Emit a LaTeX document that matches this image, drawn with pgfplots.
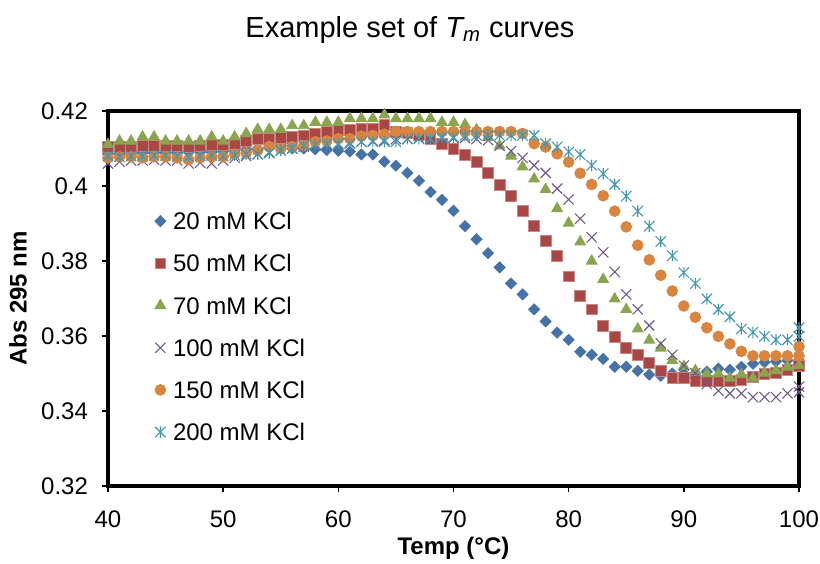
\documentclass[border=0pt]{standalone}
\usepackage{fontspec}
\setmainfont{Liberation Sans}
\usepackage{pgfplots}
\pgfplotsset{compat=1.18}

\definecolor{s20}{RGB}{69,114,167}
\definecolor{s50}{RGB}{170,70,67}
\definecolor{s70}{RGB}{137,165,78}
\definecolor{s100}{RGB}{113,88,143}
\definecolor{s150}{RGB}{219,132,61}
\definecolor{s200}{RGB}{65,152,175}

% Excel style star: an x with a vertical bar
\pgfdeclareplotmark{xstar}{%
  \pgfpathmoveto{\pgfqpoint{-\pgfplotmarksize}{-\pgfplotmarksize}}%
  \pgfpathlineto{\pgfqpoint{\pgfplotmarksize}{\pgfplotmarksize}}%
  \pgfpathmoveto{\pgfqpoint{-\pgfplotmarksize}{\pgfplotmarksize}}%
  \pgfpathlineto{\pgfqpoint{\pgfplotmarksize}{-\pgfplotmarksize}}%
  \pgfpathmoveto{\pgfqpoint{0pt}{-1.1\pgfplotmarksize}}%
  \pgfpathlineto{\pgfqpoint{0pt}{1.1\pgfplotmarksize}}%
  \pgfusepathqstroke}

\newcommand{\txt}{\fontsize{12}{14}\selectfont}

\begin{document}
\begin{tikzpicture}
\useasboundingbox (-54pt,-38.5pt) rectangle (356pt,243pt);
\begin{axis}[
    at={(0,0)}, anchor=south west,
    scale only axis, width=345.5pt, height=187.5pt,
    xmin=40, xmax=100, ymin=0.32, ymax=0.42,
    xtick={40,50,60,70,80,90,100},
    ytick={0.32,0.34,0.36,0.38,0.40,0.42},
    xtick pos=left, ytick pos=left,
    tick align=outside, major tick length=3pt,
    tick style={black, line width=0.8pt},
    axis line style={black, line width=1.6pt},
    every tick label/.append style={font=\txt},
    /pgf/number format/assume math mode=true,
    scaled y ticks=false,
    yticklabel style={/pgf/number format/fixed, /pgf/number format/precision=2, xshift=-3.5pt},
    xticklabel style={yshift=-6pt},
    xlabel={Temp (°C)},
    xlabel style={font=\bfseries\txt, at={(axis description cs:0.5,-0.165)}, anchor=center},
    ylabel={Abs 295 nm},
    ylabel style={font=\bfseries\txt, at={(axis description cs:-0.13,0.5)}, anchor=center},
    title={Example set of {\itshape T}\textsubscript{\itshape m} curves},
    title style={font=\fontsize{14.5}{17}\selectfont, at={(axis description cs:0.437,1.184)}, anchor=center},
    clip=false,
    legend cell align=left,
    legend image code/.code={\draw[#1] plot coordinates {(0pt,0pt)};},
    legend style={draw=none, fill=none, at={(axis description cs:0.067,0.7304)}, anchor=north west,
        inner sep=0pt, row sep=12.5pt, column sep=3.5pt, font=\txt,
        nodes={inner sep=0pt, text height=8.6pt, text depth=0pt}},
]
% 20 mM KCl
\addplot[only marks, color=s20, mark=square*, mark size=2pt, mark options={rotate=45, line width=0.3pt}] coordinates {
(40,0.4085) (41,0.4085) (42,0.4085) (43,0.4088) (44,0.4088) (45,0.4088) (46,0.4088) (47,0.4090)
(48,0.4090) (49,0.4090) (50,0.4092) (51,0.4095) (52,0.4098) (53,0.4100) (54,0.4105) (55,0.4108)
(56,0.4100) (57,0.4100) (58,0.4098) (59,0.4096) (60,0.4094) (61,0.4092) (62,0.4084) (63,0.4084)
(64,0.4065) (65,0.4054) (66,0.4035) (67,0.4014) (68,0.3984) (69,0.3963) (70,0.3934) (71,0.3893)
(72,0.3858) (73,0.3821) (74,0.3783) (75,0.3740) (76,0.3711) (77,0.3671) (78,0.3639) (79,0.3609)
(80,0.3590) (81,0.3558) (82,0.3550) (83,0.3539) (84,0.3518) (85,0.3518) (86,0.3507) (87,0.3497)
(88,0.3494) (89,0.3500) (90,0.3500) (91,0.3500) (92,0.3505) (93,0.3513) (94,0.3510) (95,0.3518)
(96,0.3526) (97,0.3530) (98,0.3532) (99,0.3535) (100,0.3535)
};
% 50 mM KCl
\addplot[only marks, color=s50, mark=square*, mark size=2.7pt, mark options={fill=s50, draw=s50!65!white, line width=0.4pt}] coordinates {
(40,0.4105) (41,0.4105) (42,0.4105) (43,0.4108) (44,0.4108) (45,0.4108) (46,0.4108) (47,0.4105)
(48,0.4108) (49,0.4110) (50,0.4110) (51,0.4112) (52,0.4120) (53,0.4125) (54,0.4125) (55,0.4128)
(56,0.4132) (57,0.4135) (58,0.4140) (59,0.4145) (60,0.4150) (61,0.4150) (62,0.4152) (63,0.4152)
(64,0.4162) (65,0.4145) (66,0.4142) (67,0.4135) (68,0.4125) (69,0.4113) (70,0.4100) (71,0.4084)
(72,0.4065) (73,0.4035) (74,0.4003) (75,0.3974) (76,0.3934) (77,0.3893) (78,0.3853) (79,0.3813)
(80,0.3759) (81,0.3708) (82,0.3671) (83,0.3628) (84,0.3598) (85,0.3569) (86,0.3550) (87,0.3529)
(88,0.3507) (89,0.3488) (90,0.3488) (91,0.3480) (92,0.3480) (93,0.3480) (94,0.3480) (95,0.3482)
(96,0.3490) (97,0.3500) (98,0.3502) (99,0.3510) (100,0.3520)
};
% 70 mM KCl
\addplot[only marks, color=s70, mark=triangle*, mark size=3.1pt] coordinates {
(40,0.4111) (41,0.4120) (42,0.4120) (43,0.4131) (44,0.4131) (45,0.4120) (46,0.4120) (47,0.4120)
(48,0.4120) (49,0.4131) (50,0.4120) (51,0.4131) (52,0.4140) (53,0.4151) (54,0.4151) (55,0.4151)
(56,0.4161) (57,0.4161) (58,0.4170) (59,0.4170) (60,0.4170) (61,0.4180) (62,0.4180) (63,0.4180)
(64,0.4190) (65,0.4180) (66,0.4180) (67,0.4180) (68,0.4180) (69,0.4170) (70,0.4170) (71,0.4164)
(72,0.4150) (73,0.4130) (74,0.4107) (75,0.4080) (76,0.4051) (77,0.4019) (78,0.3991) (79,0.3940)
(80,0.3901) (81,0.3851) (82,0.3800) (83,0.3751) (84,0.3699) (85,0.3671) (86,0.3619) (87,0.3589)
(88,0.3568) (89,0.3535) (90,0.3519) (91,0.3508) (92,0.3499) (93,0.3499) (94,0.3488) (95,0.3497)
(96,0.3488) (97,0.3501) (98,0.3508) (99,0.3517) (100,0.3521)
};
% 100 mM KCl
\addplot[only marks, color=s100, mark=x, mark size=3.6pt, mark options={line width=0.55pt}] coordinates {
(40,0.4060) (41,0.4065) (42,0.4068) (43,0.4068) (44,0.4070) (45,0.4068) (46,0.4068) (47,0.4060)
(48,0.4062) (49,0.4060) (50,0.4068) (51,0.4075) (52,0.4080) (53,0.4085) (54,0.4090) (55,0.4095)
(56,0.4100) (57,0.4105) (58,0.4108) (59,0.4110) (60,0.4112) (61,0.4115) (62,0.4118) (63,0.4120)
(64,0.4122) (65,0.4125) (66,0.4125) (67,0.4128) (68,0.4128) (69,0.4128) (70,0.4128) (71,0.4128)
(72,0.4125) (73,0.4122) (74,0.4107) (75,0.4093) (76,0.4075) (77,0.4055) (78,0.4035) (79,0.3993)
(80,0.3964) (81,0.3913) (82,0.3863) (83,0.3823) (84,0.3771) (85,0.3711) (86,0.3671) (87,0.3628)
(88,0.3580) (89,0.3550) (90,0.3521) (91,0.3501) (92,0.3472) (93,0.3454) (94,0.3447) (95,0.3447)
(96,0.3437) (97,0.3437) (98,0.3437) (99,0.3447) (100,0.3465) (100,0.3450)
};
% 150 mM KCl
\addplot[only marks, color=s150, mark=*, mark size=2.7pt] coordinates {
(40,0.4075) (41,0.4078) (42,0.4078) (43,0.4075) (44,0.4078) (45,0.4078) (46,0.4075) (47,0.4070)
(48,0.4075) (49,0.4078) (50,0.4078) (51,0.4085) (52,0.4088) (53,0.4095) (54,0.4105) (55,0.4100)
(56,0.4105) (57,0.4108) (58,0.4118) (59,0.4120) (60,0.4126) (61,0.4126) (62,0.4133) (63,0.4135)
(64,0.4138) (65,0.4145) (66,0.4145) (67,0.4145) (68,0.4145) (69,0.4145) (70,0.4145) (71,0.4145)
(72,0.4145) (73,0.4145) (74,0.4145) (75,0.4145) (76,0.4140) (77,0.4113) (78,0.4104) (79,0.4086)
(80,0.4064) (81,0.4034) (82,0.4004) (83,0.3974) (84,0.3933) (85,0.3891) (86,0.3842) (87,0.3803)
(88,0.3762) (89,0.3720) (90,0.3680) (91,0.3650) (92,0.3622) (93,0.3599) (94,0.3579) (95,0.3559)
(96,0.3547) (97,0.3547) (98,0.3547) (99,0.3547) (100,0.3547) (100,0.3572)
};
% 200 mM KCl
\addplot[only marks, color=s200, mark=xstar, mark size=2.6pt, mark options={line width=0.55pt}] coordinates {
(40,0.4080) (41,0.4078) (42,0.4080) (43,0.4080) (44,0.4082) (45,0.4082) (46,0.4080) (47,0.4078)
(48,0.4080) (49,0.4082) (50,0.4080) (51,0.4082) (52,0.4085) (53,0.4085) (54,0.4088) (55,0.4095)
(56,0.4100) (57,0.4108) (58,0.4110) (59,0.4113) (60,0.4113) (61,0.4113) (62,0.4118) (63,0.4118)
(64,0.4118) (65,0.4118) (66,0.4126) (67,0.4126) (68,0.4126) (69,0.4130) (70,0.4130) (71,0.4135)
(72,0.4135) (73,0.4135) (74,0.4135) (75,0.4135) (76,0.4135) (77,0.4135) (78,0.4113) (79,0.4104)
(80,0.4091) (81,0.4084) (82,0.4055) (83,0.4033) (84,0.4004) (85,0.3973) (86,0.3933) (87,0.3893)
(88,0.3852) (89,0.3814) (90,0.3769) (91,0.3740) (92,0.3699) (93,0.3671) (94,0.3651) (95,0.3619)
(96,0.3610) (97,0.3599) (98,0.3590) (99,0.3590) (100,0.3599) (100,0.3622)
};
\legend{20 mM KCl, 50 mM KCl, 70 mM KCl, 100 mM KCl, 150 mM KCl, 200 mM KCl}
\end{axis}
\end{tikzpicture}
\end{document}
